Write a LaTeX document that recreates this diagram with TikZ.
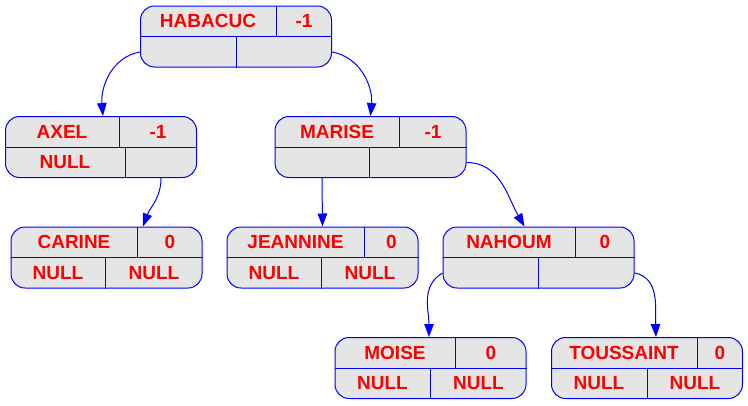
\documentclass[tikz,border=0pt]{standalone}
\usepackage{fontspec}
\setmainfont{Liberation Sans}
\usetikzlibrary{arrows.meta,calc}

% record node: name, x, y, key, balance, top divider, bottom divider, left, right
\newcommand{\recnode}[9]{%
  \node [rec] (#1) at (#2,#3) {};
  \draw [recline] (#1.west) -- (#1.east);
  \draw [recline] ([xshift=#6pt]#1.north west) -- ([xshift=#6pt]#1.west);
  \draw [recline] ([xshift=#7pt]#1.west) -- ([xshift=#7pt]#1.south west);
  \node [lbl] at ($(#1.north west)!0.5!([xshift=#6pt]#1.west)$) {#4};
  \node [lbl] at ($([xshift=#6pt]#1.north west)!0.5!(#1.east)$) {#5};
  \coordinate (#1-l) at ($(#1.west)!0.5!([xshift=#7pt]#1.south west)$);
  \coordinate (#1-r) at ($([xshift=#7pt]#1.west)!0.5!(#1.south east)$);
  \node [lbl] at (#1-l) {#8};
  \node [lbl] at (#1-r) {#9};
}

\begin{document}
\begin{tikzpicture}[x=1pt,y=-1pt]
  \tikzset{rec/.style={draw=blue,fill=black!10,line width=1pt,rounded corners=14pt,
      minimum width=191pt,minimum height=61pt,inner sep=0pt},
    recline/.style={blue,line width=1pt},
    lbl/.style={text=red,font=\bfseries\fontsize{19}{22}\selectfont,inner sep=0pt},
    link/.style={draw=blue,line width=1pt,-{Triangle[length=13pt,width=9.5pt]}}}
  \useasboundingbox (0,0) rectangle (748,405);

  \recnode{hab}{236}{36.5}{HABACUC}{-1}{136}{96}{}{}
  \recnode{axel}{101}{147}{AXEL}{-1}{114}{120}{NULL}{}
  \recnode{marise}{370.5}{147}{MARISE}{-1}{125}{95}{}{}
  \recnode{carine}{106.5}{257.5}{CARINE}{0}{127}{95}{NULL}{NULL}
  \recnode{jeannine}{322.5}{257.5}{JEANNINE}{0}{138}{95}{NULL}{NULL}
  \recnode{nahoum}{538.5}{257.5}{NAHOUM}{0}{133}{96}{}{}
  \recnode{moise}{430.5}{368}{MOISE}{0}{121}{96}{NULL}{NULL}
  \recnode{tous}{647}{368}{TOUSSAINT}{0}{146}{96}{NULL}{NULL}

  % links
  \draw [link] (hab.west |- hab-l) to[out=190,in=95] ([xshift=2pt]axel.north);
  \draw [link] (hab.east |- hab-r) to[out=-10,in=85] (marise.north);
  \draw [link] (axel-r |- axel.south) to[out=-90,in=70] ([xshift=36.5pt]carine.north);
  \draw [link] (marise-l |- marise.south) -- (jeannine.north);
  \draw [link] (marise.east |- marise-r) to[out=0,in=120] ([xshift=-14pt]nahoum.north);
  \draw [link] (nahoum.west |- nahoum-l) to[out=210,in=90] ([xshift=-1.5pt]moise.north);
  \draw [link] (nahoum.east |- nahoum-r) to[out=-10,in=92] ([xshift=9pt]tous.north);
\end{tikzpicture}
\end{document}
